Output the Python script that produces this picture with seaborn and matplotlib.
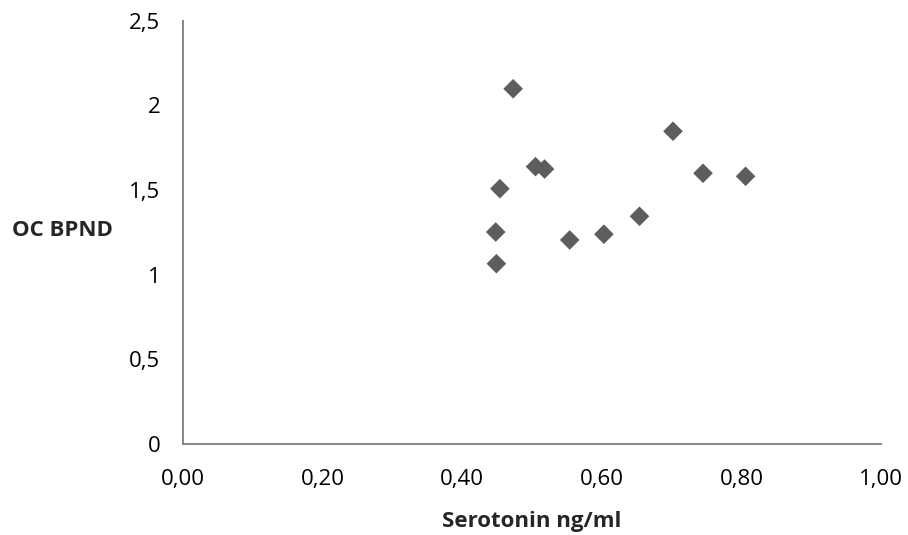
import numpy as np
import pandas as pd
import seaborn as sns
import matplotlib.pyplot as plt
from matplotlib.ticker import FuncFormatter

sns.set_style("white")
plt.rcParams['font.family'] = ['Open Sans', 'DejaVu Sans']

# valores
serotonin = [0.473, 0.702, 0.505, 0.518, 0.454, 0.745, 0.806, 0.448, 0.449, 0.554, 0.603, 0.654]
oc_bpnd = [2.098, 1.847, 1.638, 1.624, 1.508, 1.599, 1.581, 1.252, 1.065, 1.205, 1.239, 1.345]

df = pd.DataFrame({'Serotonin ng/ml': serotonin, 'OC BPND': oc_bpnd})

W, H = 908, 535
fig = plt.figure(figsize=(W / 100, H / 100), dpi=100)
left, right, top, bottom = 183, 881, 20.7, 444
ax = fig.add_axes([left / W, 1 - bottom / H, (right - left) / W, (bottom - top) / H])

sns.scatterplot(data=df, x='Serotonin ng/ml', y='OC BPND', ax=ax, marker='D',
                s=100, color='#5d5d5d', edgecolor='none', linewidth=0)

ax.set_xlim(0, 1.0)
ax.set_ylim(0, 2.5)
ax.set_xticks(np.arange(0, 1.01, 0.2))
ax.set_yticks(np.arange(0, 2.51, 0.5))
ax.xaxis.set_major_formatter(FuncFormatter(lambda v, p: f"{v:.2f}".replace('.', ',')))
ax.yaxis.set_major_formatter(FuncFormatter(lambda v, p: f"{v:g}".replace('.', ',')))

sns.despine(ax=ax)
for sp in ['left', 'bottom']:
    ax.spines[sp].set_color('#868686')
    ax.spines[sp].set_linewidth(1.4)
ax.tick_params(axis='both', direction='out', length=6.2, width=1.4, color='#868686',
               labelsize=16, labelcolor='black')
ax.tick_params(axis='x', pad=12)
ax.tick_params(axis='y', pad=10)

ax.set_xlabel('Serotonin ng/ml', fontsize=16, fontweight='bold', labelpad=15)
ax.set_ylabel('OC BPND', fontsize=16, fontweight='bold', rotation=0, ha='center', va='center')
ax.yaxis.set_label_coords((62.5 - left) / (right - left), (bottom - 231) / (bottom - top))

plt.savefig('out.png', dpi=100)
